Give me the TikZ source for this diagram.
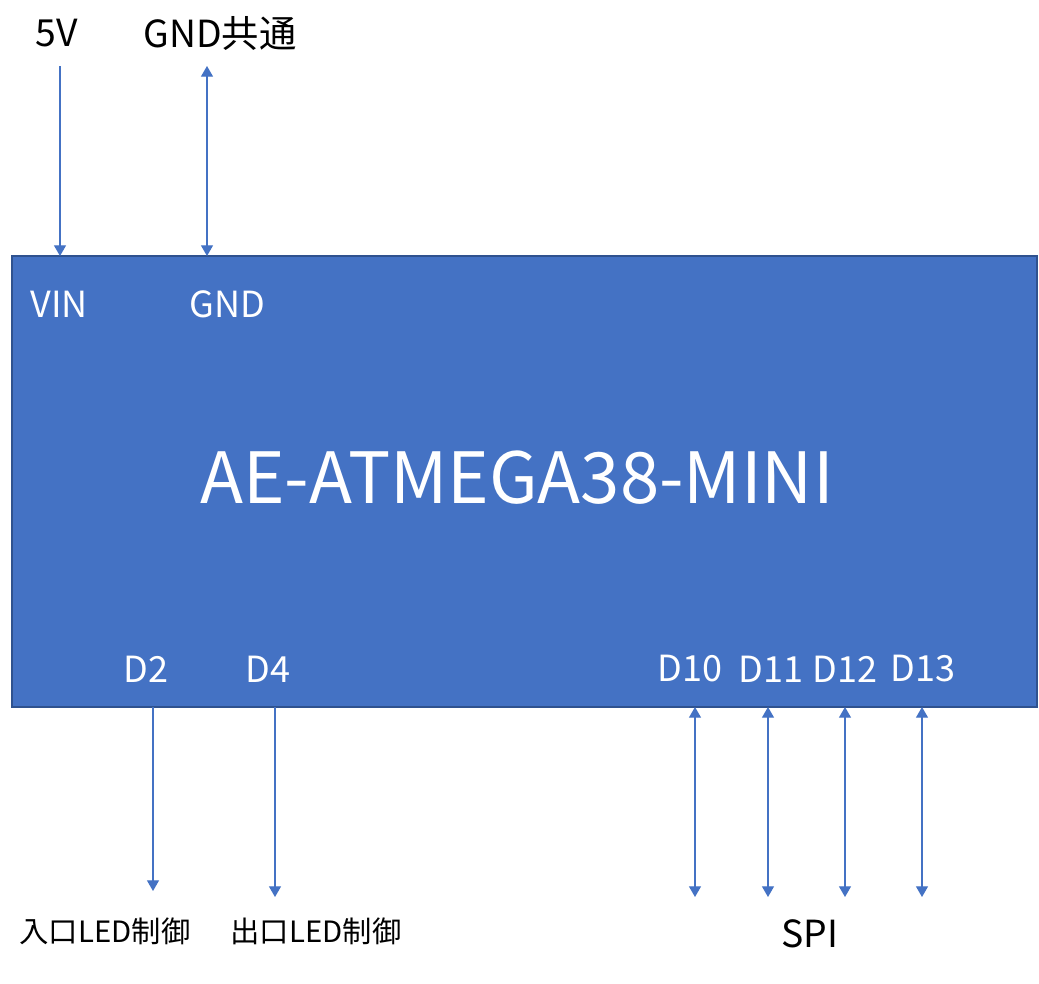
\documentclass[tikz,border=0pt]{standalone}
\usepackage{fontspec}
\setmainfont{Noto Sans CJK JP}
\usetikzlibrary{arrows.meta}
\definecolor{accent}{HTML}{4472C4}
\definecolor{accentdark}{HTML}{2F528F}
\tikzset{
  chip/.style={draw=accentdark, fill=accent, line width=1.5pt},
  wire/.style={draw=accent, line width=0.9pt},
  lbl/.style={inner sep=0pt, font=\fontsize{28}{30}\selectfont},
  pin/.style={inner sep=0pt, text=white, font=\fontsize{27}{29}\selectfont},
  sml/.style={inner sep=0pt, font=\fontsize{22}{24}\selectfont},
}
\begin{document}
\begin{tikzpicture}[x=0.75pt,y=-0.75pt]
\useasboundingbox (0,0) rectangle (1039,983);
\path[chip] (12,256) rectangle (1037,707);
\node[inner sep=0pt, text=white, font=\fontsize{53}{58}\selectfont] (title) at (517,478) {AE-ATMEGA38-MINI};
% top labels
\node[lbl] (v5) at (57,33) {5V};
\node[lbl] (gndc) at (220,33) {GND共通};
\node[pin] (vin) at (59,304) {VIN};
\node[pin] (gnd) at (227,304) {GND};
\node[pin] (d2) at (146,669) {D2};
\node[pin] (d4) at (268,669) {D4};
\node[pin] (d10) at (690,669) {D10};
\node[pin] (d11) at (771,669) {D11};
\node[pin] (d12) at (845,669) {D12};
\node[pin] (d13) at (923,669) {D13};
\node[sml] (inled) at (105,931) {入口LED制御};
\node[sml] (outled) at (316,931) {出口LED制御};
\node[lbl] (spi) at (810,934) {SPI};
% wire end points
\coordinate (vinT) at (60,66);   \coordinate (vinB) at (60,256);
\coordinate (gndT) at (207,66);  \coordinate (gndB) at (207,256);
\coordinate (d2T) at (153,707);  \coordinate (d2B) at (153,891);
\coordinate (d4T) at (275,707);  \coordinate (d4B) at (275,897);
\coordinate (d10T) at (695,707); \coordinate (d10B) at (695,897);
\coordinate (d11T) at (768,707); \coordinate (d11B) at (768,897);
\coordinate (d12T) at (845,707); \coordinate (d12B) at (845,897);
\coordinate (d13T) at (922,707); \coordinate (d13B) at (922,897);
% wires
\draw[wire,-{Triangle[width=9pt,length=8pt]}] (vinT) -- (vinB);
\draw[wire,{Triangle[width=9pt,length=8pt]}-{Triangle[width=9pt,length=8pt]}] (gndT) -- (gndB);
\draw[wire,-{Triangle[width=9pt,length=8pt]}] (d2T) -- (d2B);
\draw[wire,-{Triangle[width=9pt,length=8pt]}] (d4T) -- (d4B);
\draw[wire,{Triangle[width=9pt,length=8pt]}-{Triangle[width=9pt,length=8pt]}] (d10T) -- (d10B);
\draw[wire,{Triangle[width=9pt,length=8pt]}-{Triangle[width=9pt,length=8pt]}] (d11T) -- (d11B);
\draw[wire,{Triangle[width=9pt,length=8pt]}-{Triangle[width=9pt,length=8pt]}] (d12T) -- (d12B);
\draw[wire,{Triangle[width=9pt,length=8pt]}-{Triangle[width=9pt,length=8pt]}] (d13T) -- (d13B);
\end{tikzpicture}
\end{document}
